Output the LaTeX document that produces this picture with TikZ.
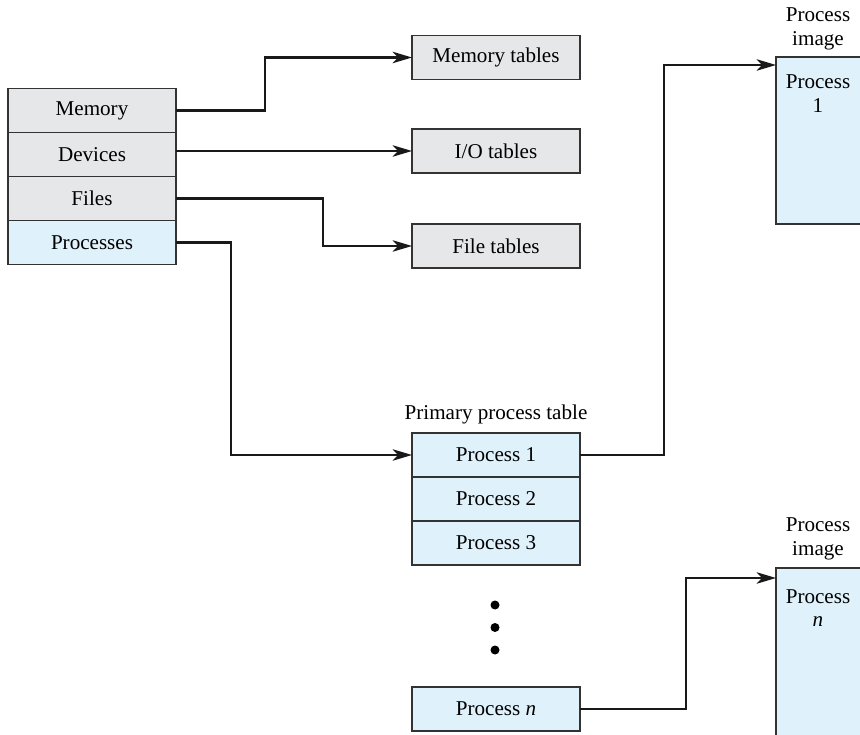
\documentclass[tikz,border=0pt]{standalone}
\usepackage{fontspec}
\setmainfont{Liberation Serif}
\usetikzlibrary{arrows.meta,positioning}
\definecolor{tabgray}{HTML}{E6E7E8}
\definecolor{tabblue}{HTML}{DFF1FB}
\definecolor{edge}{HTML}{333333}

\begin{document}
\begin{tikzpicture}[
    row/.style={draw=edge, line width=0.8pt, minimum width=3.36cm, minimum height=0.88cm, outer sep=0pt, inner sep=0pt, font=\fontsize{12}{14}\selectfont, fill=tabgray},
    prow/.style={row, fill=tabblue},
    img/.style={draw=edge, line width=0.8pt, fill=tabblue, minimum width=1.78cm, outer sep=0pt},
    lbl/.style={align=center, font=\fontsize{12}{13.5}\selectfont, inner sep=0pt},
    arr/.style={-{Stealth[length=11pt, width=6.5pt, inset=3pt]}, line width=1.3pt, draw=black!90}
]
\useasboundingbox (0,0) rectangle (17.2,-14.7);
\clip (0,0) rectangle (17.2,-14.7);

\node[row] (mem) at (1.84,-2.21) {Memory};
\node[row, below=0pt of mem] (dev) {Devices};
\node[row, below=0pt of dev] (fil) {Files};
\node[prow, below=0pt of fil] (proc) {Processes};

\node[row] (mtab) at (9.92,-1.15) {Memory tables};
\node[row] (iotab) at (9.92,-3.02) {I/O tables};
\node[row] (ftab) at (9.92,-4.92) {File tables};

\node[prow] (p1) at (9.92,-9.10) {Process 1};
\node[prow, below=0pt of p1] (p2) {Process 2};
\node[prow, below=0pt of p2] (p3) {Process 3};
\node[lbl, above=0.18cm of p1] (ptitle) {Primary process table};
\node[prow] (pn) at (9.92,-14.18) {Process \textit{n}};

\foreach \y/\name in {-12.1/d1,-12.55/d2,-13.0/d3}
    \fill (9.9,\y) circle (0.09cm) coordinate (\name);

\node[img, minimum height=3.34cm] (img1) at (16.41,-2.81) {};
\node[lbl] (img1txt) at (16.36,-1.87) {Process\\1};
\node[lbl] (img1lbl) at (16.36,-0.58) {Process\\image};

\node[img, minimum height=3.64cm] (imgn) at (16.41,-13.18) {};
\node[lbl] (imgntxt) at (16.36,-12.16) {Process\\\textit{n}};
\node[lbl] (imgnlbl) at (16.36,-10.78) {Process\\image};

\draw[arr] (mem.east) -- ++(1.78,0) |- (mtab.west);
\draw[arr] (iotab.west -| dev.east) -- (iotab.west);
\draw[arr] (fil.east) -- ++(2.94,0) |- (ftab.west);
\draw[arr] (proc.east) -- ++(1.10,0) |- (p1.west);
\draw[arr] (p1.east) -- ++(1.68,0) |- ([yshift=-0.16cm]img1.north west);
\draw[arr] (pn.east) -- ++(2.12,0) |- ([yshift=-0.2cm]imgn.north west);
\end{tikzpicture}
\end{document}
